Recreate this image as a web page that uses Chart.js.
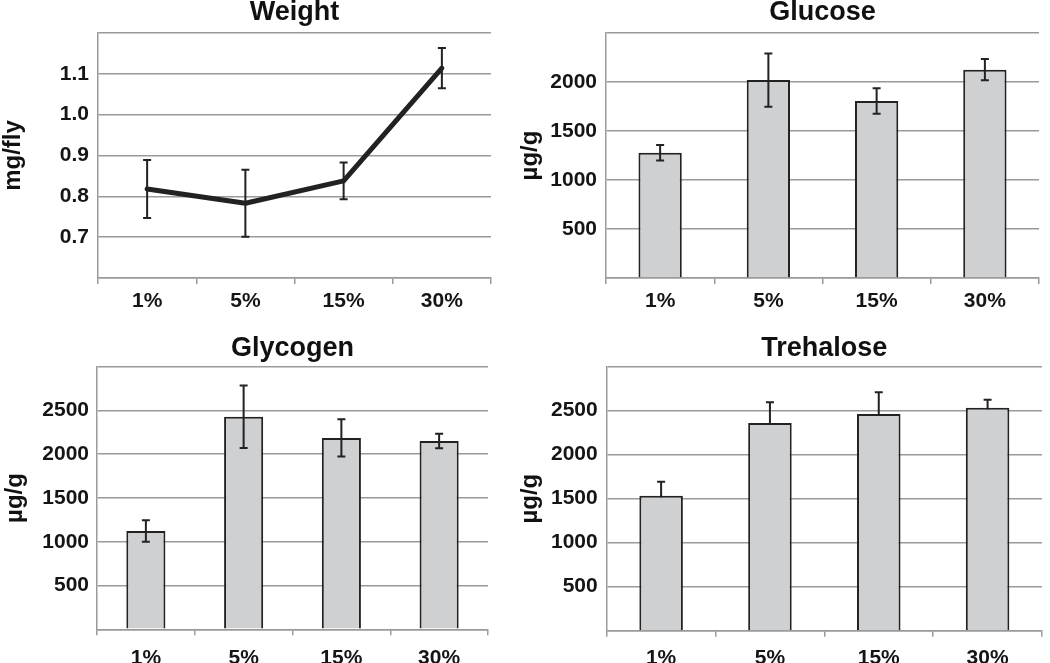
<!DOCTYPE html>
<html>
<head>
<meta charset="utf-8">
<script src="https://cdn.jsdelivr.net/npm/chart.js@4.4.1/dist/chart.umd.min.js"></script>
<style>
  html, body { margin: 0; padding: 0; background: #fff; }
  .panel { position: absolute; }
</style>
</head>
<body>
<div class="panel" style="left:0;top:0;width:520px;height:325px"><canvas id="weight"></canvas></div>
<div class="panel" style="left:520px;top:0;width:530px;height:325px"><canvas id="glucose"></canvas></div>
<div class="panel" style="left:0;top:325px;width:520px;height:338px"><canvas id="glycogen"></canvas></div>
<div class="panel" style="left:520px;top:325px;width:530px;height:338px"><canvas id="trehalose"></canvas></div>
<script>
// sugar concentration in food
const doses = ['1%', '5%', '15%', '30%'];

const weightMean = [0.818, 0.783, 0.838, 1.114];
const weightErr = [0.071, 0.082, 0.045, 0.049];
const glucoseMean = [1278, 2020, 1806, 2126];
const glucoseErr = [78, 272, 131, 109];
const glycogenMean = [1123, 2429, 2186, 2151];
const glycogenErr = [124, 357, 213, 82];
const trehaloseMean = [1534, 2360, 2462, 2534];
const trehaloseErr = [159, 235, 247, 91];

// y axis ranges: [min, max, step]
const weightTicks = [0.6, 1.2, 0.1];
const glucoseTicks = [0, 2500, 500];
const sugarTicks = [0, 3000, 500];

Chart.defaults.font.family = "'Liberation Sans', Arial, sans-serif";
Chart.defaults.color = '#151515';
Chart.defaults.animation = false;

const GRID = '#9a9a9a';
const INK = '#222';

// draws +/- error whiskers, either on top of or under the marks
const errorBars = {
  id: 'errorBars',
  paint(chart, opts) {
    const meta = chart.getDatasetMeta(0);
    const ys = chart.scales.y;
    const vals = chart.data.datasets[0].data;
    const ctx = chart.ctx;
    ctx.save();
    ctx.strokeStyle = INK;
    ctx.lineWidth = 2;
    meta.data.forEach((el, i) => {
      const top = ys.getPixelForValue(vals[i] + opts.errors[i]);
      const bot = ys.getPixelForValue(vals[i] - opts.errors[i]);
      ctx.beginPath();
      ctx.moveTo(el.x, top); ctx.lineTo(el.x, bot);
      ctx.moveTo(el.x - 4, top); ctx.lineTo(el.x + 4, top);
      ctx.moveTo(el.x - 4, bot); ctx.lineTo(el.x + 4, bot);
      ctx.stroke();
    });
    ctx.restore();
  },
  beforeDatasetsDraw(chart, args, opts) { if (opts.behind) this.paint(chart, opts); },
  afterDatasetsDraw(chart, args, opts) { if (!opts.behind) this.paint(chart, opts); }
};

function makeChart(id, p) {
  const [ymin, ymax, step] = p.ticks;
  const dataset = p.type === 'line'
    ? { data: p.mean, borderColor: INK, borderWidth: 5, pointRadius: 0, tension: 0,
        borderJoinStyle: 'round', borderCapStyle: 'round' }
    : { data: p.mean, backgroundColor: '#cfd0d2', borderColor: INK, borderWidth: 2,
        barPercentage: 0.4, categoryPercentage: 1 };
  return new Chart(document.getElementById(id), {
    type: p.type,
    data: { labels: doses, datasets: [dataset] },
    options: {
      responsive: true,
      maintainAspectRatio: false,
      layout: { padding: { left: 0, top: 0, right: p.right, bottom: 0 } },
      plugins: {
        legend: { display: false },
        tooltip: { enabled: false },
        title: {
          display: true, text: p.title, fullSize: false, color: '#111',
          font: { size: 27, weight: 'bold', lineHeight: 0.9 },
          padding: { top: p.titleTop, bottom: p.titleBottom }
        },
        errorBars: { errors: p.err, behind: !!p.behind }
      },
      scales: {
        x: {
          offset: true,
          grid: { display: true, drawOnChartArea: false, drawTicks: true, tickLength: 6,
                  color: GRID, lineWidth: 1.5, offset: true },
          border: { color: GRID, width: 1.5 },
          ticks: { font: { size: 21, weight: 'bold' }, padding: p.xPad, maxRotation: 0 },
          afterFit(s) { s.height = p.xH; s.paddingLeft = 0; s.paddingRight = 0; }
        },
        y: {
          min: ymin, max: ymax,
          grid: { color: GRID, lineWidth: 1.5, drawTicks: false },
          border: { color: GRID, width: 1.5 },
          ticks: {
            stepSize: step, padding: p.yPad,
            font: { size: 21, weight: 'bold' },
            callback: v => (v > ymin + step / 2 && v < ymax - step / 2)
              ? (p.type === 'line' ? v.toFixed(1) : String(Math.round(v))) : ''
          },
          title: {
            display: true, text: p.yTitle, color: '#111',
            font: { size: 24, weight: 'bold', lineHeight: p.yTitleLH },
            padding: { top: p.yTitlePad, bottom: 0 }
          },
          afterFit(s) { s.width = p.yW; s.paddingTop = 0; s.paddingBottom = 0; }
        }
      }
    },
    plugins: [errorBars]
  });
}

makeChart('weight', {
  type: 'line', title: 'Weight', yTitle: 'mg/fly', mean: weightMean, err: weightErr,
  ticks: weightTicks, right: 29, yW: 98, xH: 47, titleTop: 0.5, titleBottom: 8.2,
  yPad: 9, xPad: 5, yTitleLH: 1.1, yTitlePad: 0
});
makeChart('glucose', {
  type: 'bar', title: 'Glucose', yTitle: 'µg/g', mean: glucoseMean, err: glucoseErr,
  ticks: glucoseTicks, right: 11, yW: 86, xH: 47, titleTop: 0.5, titleBottom: 8.2,
  yPad: 9, xPad: 5, yTitleLH: 0.9, yTitlePad: 0
});
makeChart('glycogen', {
  type: 'bar', title: 'Glycogen', yTitle: 'µg/g', mean: glycogenMean, err: glycogenErr,
  ticks: sugarTicks, right: 32, yW: 97, xH: 33.7, titleTop: 11, titleBottom: 6.4,
  yPad: 8, xPad: 10, yTitleLH: 1.1, yTitlePad: 2
});
makeChart('trehalose', {
  type: 'bar', title: 'Trehalose', yTitle: 'µg/g', mean: trehaloseMean, err: trehaloseErr,
  ticks: sugarTicks, right: 8, yW: 86.7, xH: 32.3, titleTop: 11, titleBottom: 6.4,
  yPad: 9, xPad: 9, yTitleLH: 0.9, yTitlePad: 0, behind: true
});
</script>
</body>
</html>
